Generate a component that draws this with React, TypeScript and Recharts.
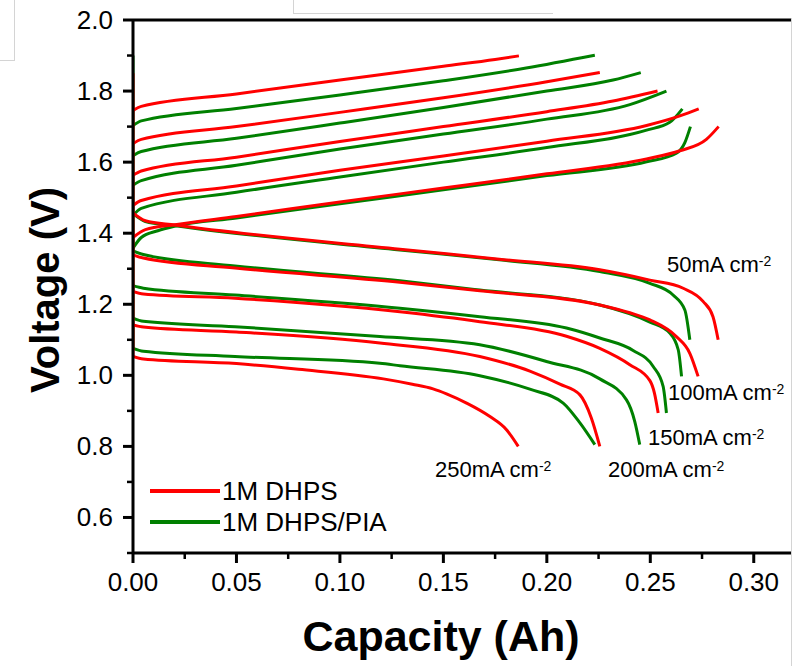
import React from "react";
import { LineChart, Line, XAxis, YAxis, ReferenceLine } from "recharts";

const RED = "#ff0000";
const GREEN = "#008000";
const FONT = "'Liberation Sans', Arial, sans-serif";

// [capacity (Ah), voltage (V)]
const dhpsCharge50 = [[0, 1.388], [0.006, 1.41], [0.0203, 1.424], [0.05, 1.447], [0.1, 1.488], [0.15, 1.527], [0.2, 1.567], [0.2482, 1.609], [0.2643, 1.632], [0.2771, 1.664], [0.283, 1.7]];
const dhpsCharge100 = [[0, 1.478], [0.004, 1.492], [0.05, 1.533], [0.1, 1.577], [0.15, 1.617], [0.2, 1.659], [0.2482, 1.703], [0.2643, 1.73], [0.2734, 1.75]];
const dhpsCharge150 = [[0, 1.563], [0.004, 1.575], [0.05, 1.614], [0.1, 1.658], [0.15, 1.7], [0.2, 1.742], [0.232, 1.772], [0.2535, 1.8]];
const dhpsCharge200 = [[0, 1.652], [0.004, 1.664], [0.05, 1.7], [0.1, 1.74], [0.15, 1.781], [0.2, 1.826], [0.2256, 1.852]];
const dhpsCharge250 = [[0, 1.745], [0.004, 1.757], [0.05, 1.792], [0.1, 1.831], [0.15, 1.87], [0.175, 1.889], [0.1865, 1.899]];

const piaCharge50 = [[0, 1.358], [0.004, 1.388], [0.012, 1.407], [0.0203, 1.42], [0.05, 1.443], [0.1, 1.483], [0.15, 1.522], [0.2, 1.562], [0.2482, 1.601], [0.2626, 1.625], [0.2667, 1.655], [0.2694, 1.7]];
const piaCharge100 = [[0, 1.45], [0.004, 1.47], [0.05, 1.515], [0.1, 1.558], [0.15, 1.6], [0.2, 1.641], [0.2482, 1.69], [0.2594, 1.712], [0.2655, 1.75]];
const piaCharge150 = [[0, 1.535], [0.004, 1.548], [0.05, 1.591], [0.1, 1.637], [0.15, 1.679], [0.2, 1.721], [0.2401, 1.762], [0.2578, 1.8]];
const piaCharge200 = [[0, 1.618], [0.004, 1.63], [0.05, 1.667], [0.1, 1.71], [0.15, 1.754], [0.2, 1.8], [0.232, 1.831], [0.2454, 1.852]];
const piaCharge250 = [[0, 1.703], [0.004, 1.716], [0.05, 1.751], [0.1, 1.789], [0.15, 1.829], [0.19, 1.865], [0.2232, 1.901]];

const dhpsDischarge50 = [[0, 1.457], [0.006, 1.435], [0.0203, 1.423], [0.129, 1.355], [0.177, 1.327], [0.2256, 1.297], [0.2498, 1.268], [0.2659, 1.245], [0.2755, 1.208], [0.2803, 1.165], [0.2828, 1.1]];
const dhpsDischarge100 = [[0, 1.339], [0.005, 1.33], [0.0493, 1.302], [0.129, 1.262], [0.1676, 1.238], [0.2256, 1.198], [0.2401, 1.176], [0.2498, 1.156], [0.2626, 1.109], [0.2691, 1.062], [0.2731, 0.997]];
const dhpsDischarge150 = [[0, 1.236], [0.005, 1.229], [0.0493, 1.217], [0.129, 1.179], [0.1676, 1.151], [0.2095, 1.11], [0.2256, 1.076], [0.2401, 1.03], [0.2498, 0.985], [0.252, 0.95], [0.2538, 0.894]];
const dhpsDischarge200 = [[0, 1.142], [0.005, 1.136], [0.05, 1.122], [0.1193, 1.091], [0.1676, 1.053], [0.1918, 1.012], [0.2063, 0.975], [0.216, 0.945], [0.2215, 0.88], [0.2256, 0.8]];
const dhpsDischarge250 = [[0, 1.053], [0.005, 1.046], [0.05, 1.033], [0.08, 1.017], [0.121, 0.99], [0.135, 0.975], [0.145, 0.962], [0.1515, 0.948], [0.1612, 0.922], [0.1725, 0.884], [0.1805, 0.847], [0.1862, 0.8]];

const piaDischarge50 = [[0, 1.455], [0.006, 1.433], [0.0203, 1.421], [0.129, 1.353], [0.177, 1.325], [0.2256, 1.292], [0.2498, 1.259], [0.261, 1.226], [0.2667, 1.184], [0.2691, 1.1]];
const piaDischarge100 = [[0, 1.35], [0.005, 1.34], [0.0493, 1.308], [0.129, 1.266], [0.1676, 1.24], [0.2256, 1.198], [0.2498, 1.15], [0.2594, 1.119], [0.2635, 1.072], [0.2651, 0.997]];
const piaDischarge150 = [[0, 1.252], [0.005, 1.245], [0.0493, 1.226], [0.129, 1.189], [0.1676, 1.165], [0.2095, 1.133], [0.2256, 1.105], [0.2417, 1.07], [0.2514, 1.025], [0.2562, 0.969], [0.2578, 0.894]];
const piaDischarge200 = [[0, 1.161], [0.005, 1.152], [0.0493, 1.137], [0.1193, 1.109], [0.1676, 1.086], [0.1998, 1.039], [0.2256, 0.99], [0.2385, 0.931], [0.2425, 0.87], [0.2449, 0.805]];
const piaDischarge250 = [[0, 1.076], [0.005, 1.068], [0.0493, 1.053], [0.1193, 1.034], [0.129, 1.027], [0.1676, 0.999], [0.1918, 0.961], [0.2079, 0.922], [0.216, 0.866], [0.2232, 0.805]];

// vertical rest steps at zero capacity
const dhpsRest = [[0, 1.053], [0, 1.85]];
const piaRest = [[0, 1.076], [0, 1.9]];

const xTicks = [0, 0.025, 0.05, 0.075, 0.1, 0.125, 0.15, 0.175, 0.2, 0.225, 0.25, 0.275, 0.3];
const yTicks = [0.5, 0.6, 0.7, 0.8, 0.9, 1.0, 1.1, 1.2, 1.3, 1.4, 1.5, 1.6, 1.7, 1.8, 1.9, 2.0];
const densityLabels = ["50", "100", "150", "200", "250"];
const seriesNames = ["1M DHPS", "1M DHPS/PIA"];

const greenSeries = [piaRest, piaCharge50, piaCharge100, piaCharge150, piaCharge200, piaCharge250, piaDischarge50, piaDischarge100, piaDischarge150, piaDischarge200, piaDischarge250];
const redSeries = [dhpsRest, dhpsCharge50, dhpsCharge100, dhpsCharge150, dhpsCharge200, dhpsCharge250, dhpsDischarge50, dhpsDischarge100, dhpsDischarge150, dhpsDischarge200, dhpsDischarge250];

const toPts = (arr: number[][]) => arr.map(([x, v]) => ({ x, v }));

const XTick = (props: any) => {
  const { x, y, payload } = props;
  const major = Math.round(payload.value * 1000) % 50 === 0;
  return (
    <g>
      <line x1={x} x2={x} y1={y} y2={y + (major ? 10 : 6)} stroke="#000" strokeWidth={major ? 3 : 2.5} />
      {major && (
        <text x={x} y={y + 38} textAnchor="middle" fontSize={26} fontFamily={FONT} fill="#000">
          {payload.value.toFixed(2)}
        </text>
      )}
    </g>
  );
};

const YTick = (props: any) => {
  const { x, y, payload } = props;
  const major = Math.round(payload.value * 10) % 2 === 0;
  return (
    <g>
      <line x1={x} x2={x - (major ? 10 : 6)} y1={y} y2={y} stroke="#000" strokeWidth={major ? 3 : 2.5} />
      {major && (
        <text x={x - 20} y={y + 9} textAnchor="end" fontSize={26} fontFamily={FONT} fill="#000">
          {payload.value.toFixed(1)}
        </text>
      )}
    </g>
  );
};

const Density = ({ value, left, top }: { value: string; left: number; top: number }) => (
  <div style={{ position: "absolute", left, top, fontSize: 22, lineHeight: "22px", fontFamily: FONT, whiteSpace: "nowrap" }}>
    {value}mA cm<sup style={{ fontSize: 14, verticalAlign: "top", lineHeight: "14px" }}>-2</sup>
  </div>
);

const labelPos = [
  { left: 667, top: 254 },
  { left: 668, top: 382 },
  { left: 648, top: 427 },
  { left: 608, top: 459 },
  { left: 435, top: 459 },
];

export default function App() {
  return (
    <div style={{ position: "absolute", left: 0, top: 0, width: 793, height: 666, overflow: "hidden", background: "#fff" }}>
      <LineChart width={793} height={666} margin={{ top: 20, right: 2, bottom: 73, left: 0 }}>
        <XAxis
          type="number"
          dataKey="x"
          domain={[0, 0.318]}
          ticks={xTicks}
          interval={0}
          tickSize={0}
          tickMargin={0}
          tickLine={false}
          axisLine={{ stroke: "#000", strokeWidth: 3 }}
          tick={<XTick />}
          height={40}
          allowDataOverflow
        />
        <YAxis
          type="number"
          dataKey="v"
          domain={[0.5, 2]}
          ticks={yTicks}
          interval={0}
          tickSize={0}
          tickMargin={0}
          tickLine={false}
          axisLine={{ stroke: "#000", strokeWidth: 3 }}
          tick={<YTick />}
          width={133}
          allowDataOverflow
        />
        <ReferenceLine y={2} stroke="#000" strokeWidth={3} />
        {greenSeries.map((s, i) => (
          <Line key={`g${i}`} data={toPts(s)} dataKey="v" type="monotone" stroke={GREEN} strokeWidth={3} dot={false} isAnimationActive={false} />
        ))}
        {redSeries.map((s, i) => (
          <Line key={`r${i}`} data={toPts(s)} dataKey="v" type="monotone" stroke={RED} strokeWidth={3} dot={false} isAnimationActive={false} />
        ))}
      </LineChart>

      {densityLabels.map((d, i) => (
        <Density key={d} value={d} left={labelPos[i].left} top={labelPos[i].top} />
      ))}

      {/* legend */}
      <div style={{ position: "absolute", left: 150, top: 489, width: 70, height: 4, background: RED }} />
      <div style={{ position: "absolute", left: 222, top: 477, fontSize: 26, lineHeight: "28px", fontFamily: FONT }}>{seriesNames[0]}</div>
      <div style={{ position: "absolute", left: 150, top: 520, width: 70, height: 4, background: GREEN }} />
      <div style={{ position: "absolute", left: 222, top: 508, fontSize: 26, lineHeight: "28px", fontFamily: FONT }}>{seriesNames[1]}</div>

      {/* axis titles */}
      <div style={{ position: "absolute", left: 441, top: 636, transform: "translate(-50%, -50%)", fontSize: 43, fontWeight: "bold", fontFamily: FONT, whiteSpace: "nowrap" }}>
        Capacity (Ah)
      </div>
      <div style={{ position: "absolute", left: 45, top: 290, transform: "translate(-50%, -50%) rotate(-90deg)", fontSize: 40, fontWeight: "bold", fontFamily: FONT, whiteSpace: "nowrap" }}>
        Voltage (V)
      </div>

      {/* crop frame remnants */}
      <div style={{ position: "absolute", left: 0, top: 0, width: 14, height: 60, borderRight: "1px solid #d4d4d4", borderBottom: "1px solid #d4d4d4" }} />
      <div style={{ position: "absolute", left: 293, top: 0, width: 259, height: 13, borderLeft: "1px solid #d4d4d4", borderBottom: "1px solid #d4d4d4" }} />
      <div style={{ position: "absolute", left: 791, top: 18, width: 1, height: 648, background: "#d4d4d4" }} />
    </div>
  );
}
